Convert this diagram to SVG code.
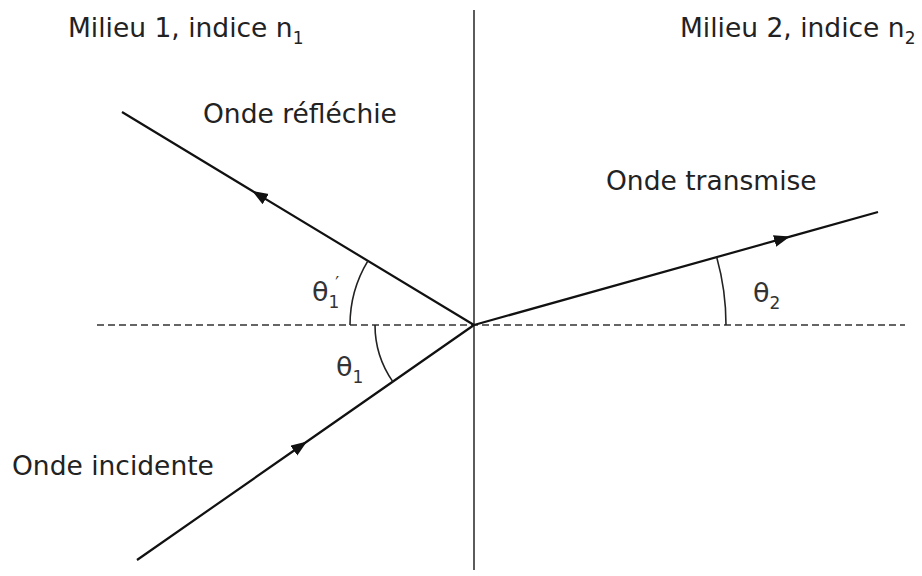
<svg xmlns="http://www.w3.org/2000/svg" width="922" height="576" viewBox="0 0 922 576">
<defs>
<marker id="arr" markerUnits="userSpaceOnUse" markerWidth="18" markerHeight="13" refX="16" refY="6" orient="auto">
<path d="M0,0 L16,6 L0,12 z" fill="#111"/>
</marker>
<style>
.t{font-family:"DejaVu Sans",sans-serif;font-size:26.5px;fill:#222}
.s{font-size:17px}
.th{font-family:"DejaVu Sans",sans-serif;font-size:27px;fill:#333}
.ray{fill:none;stroke:#111;stroke-width:2.2}
.arc{fill:none;stroke:#222;stroke-width:1.6}
</style>
</defs>
<rect width="922" height="576" fill="#fff"/>
<g id="interface"><line x1="474" y1="10" x2="474" y2="570" stroke="#333" stroke-width="1.6"/></g>
<g id="normal"><line x1="97" y1="325" x2="905" y2="325" stroke="#333" stroke-width="1.3" stroke-dasharray="7,4"/></g>
<g id="connectors">
<polyline id="incident" class="ray" points="137,560 307,441.5 474,325" marker-mid="url(#arr)"/>
<polyline id="reflechie" class="ray" points="474,325 252,190.8 122,112" marker-mid="url(#arr)"/>
<polyline id="transmise" class="ray" points="474,325 790,236.6 878,212" marker-mid="url(#arr)"/>
</g>
<g id="angles">
<path class="arc" d="M350,325 A124,124 0 0 1 367.9,260.8"/>
<path class="arc" d="M375,325 A99,99 0 0 0 392.8,381.6"/>
<path class="arc" d="M726,325 A252,252 0 0 0 716.7,257.1"/>
</g>
<g id="labels">
<text class="t" x="68" y="37">Milieu 1, indice n<tspan class="s" dy="7">1</tspan></text>
<text class="t" x="680" y="37">Milieu 2, indice n<tspan class="s" dy="7">2</tspan></text>
<text class="t" x="203" y="123">Onde réfléchie</text>
<text class="t" x="606" y="190">Onde transmise</text>
<text class="t" x="12" y="475">Onde incidente</text>
<text class="th" x="312" y="301">θ<tspan class="s" dy="7">1</tspan><tspan class="s" dx="-4" dy="-19">′</tspan></text>
<text class="th" x="336" y="376">θ<tspan class="s" dy="7">1</tspan></text>
<text class="th" x="753" y="302">θ<tspan class="s" dy="7">2</tspan></text>
</g>
</svg>
